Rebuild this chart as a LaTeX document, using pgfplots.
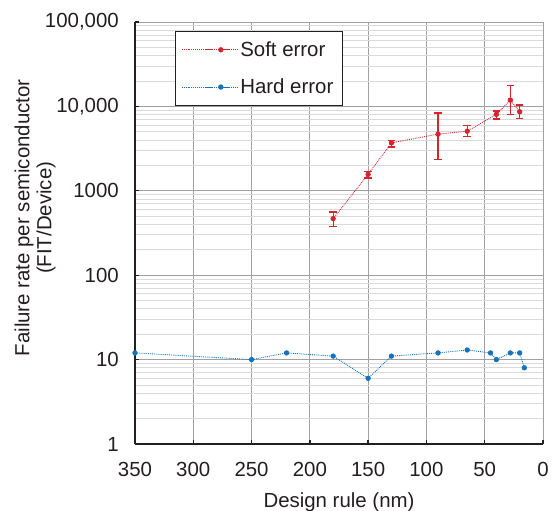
\documentclass[border=0pt]{standalone}
\usepackage{fontspec}
\setmainfont{Liberation Sans}
\usepackage{pgfplots}
\pgfplotsset{compat=1.18}
\usepackage{pgfplotstable}

\definecolor{softred}{RGB}{212,38,48}
\definecolor{hardblue}{RGB}{20,114,190}
\definecolor{majgrid}{RGB}{160,160,160}
\definecolor{mingrid}{RGB}{218,218,218}
\definecolor{txt}{RGB}{35,31,32}

% x = design rule (nm), y = FIT/device, ep/em = error bar up/down
\pgfplotstableread{
x    y      ep    em
180  468    93    92
150  1567   135   148
130  3700   250   400
90   4690   3660  2350
65   5080   850   680
40   8050   760   950
28   11860  5790  3810
20   8650   1720  1490
}\softdata

\pgfplotstableread{
x    y
350  12
250  10
220  12
180  11
150  6
130  11
90   12
65   13
45   12
40   10
28   12
20   12
16   8
}\harddata

\begin{document}
\begin{tikzpicture}[font=\fontsize{20.5}{22}\selectfont, text=txt]
\begin{axis}[
  scale only axis,
  width=408bp, height=422bp,
  x dir=reverse,
  xmin=0, xmax=350,
  ymode=log, ymin=1, ymax=100000,
  xtick={0,50,...,350},
  ytick={1,10,100,1000,10000,100000},
  yticklabels={1,10,100,1000,{10,000},{100,000}},
  minor ytick={2,3,4,5,6,7,8,9,20,30,40,50,60,70,80,90,200,300,400,500,600,700,800,900,2000,3000,4000,5000,6000,7000,8000,9000,20000,30000,40000,50000,60000,70000,80000,90000},
  /pgf/number format/assume math mode=true,
  axis x line*=bottom, axis y line*=left,
  axis line style={-, line width=1.6pt, txt},
  tick align=inside,
  major tick length=4.5bp, minor tick length=0pt,
  tick style={line width=1.4pt, txt},
  grid=both,
  major grid style={line width=0.9pt, majgrid},
  minor grid style={line width=0.9pt, mingrid},
  xticklabel style={anchor=base, yshift=-32bp, inner sep=0pt},
  yticklabel style={anchor=east, xshift=-16bp, inner sep=0pt},
  xlabel={Design rule (nm)},
  xlabel style={at={(rel axis cs:0.5,0)}, anchor=base, yshift=-63bp, inner sep=0pt},
  ylabel={Failure rate per semiconductor\\(FIT/Device)},
  ylabel style={at={(rel axis cs:-0.245,0.536)}, anchor=center, align=center, inner sep=0pt},
  legend style={at={(rel axis cs:0.098,0.978)}, anchor=north west,
    draw=txt, line width=0.8pt, inner xsep=6bp, inner ysep=8bp,
    row sep=17bp, font=\fontsize{20.5}{22}\selectfont,
    nodes={inner xsep=3bp}},
  legend cell align=left,
  legend image code/.code={
    \path (0bp,0bp) -- (55bp,0bp);
    \draw[#1, mark=none] (23bp,0bp) -- (55bp,0bp);
    \draw[#1, only marks] plot coordinates {(39bp,0bp)};},
]
\addplot[softred, densely dotted, line width=0.9pt, mark=*, mark size=2.2bp,
  mark options={solid},
  error bars/.cd, y dir=both, y explicit,
  error bar style={solid, line width=1.2pt, draw=softred},
  error mark options={solid, rotate=90, line width=1.2pt, mark size=3.8bp, draw=softred}]
  table[x=x, y=y, y error plus=ep, y error minus=em] {\softdata};
\addlegendentry{Soft error}
\addplot[hardblue, densely dotted, line width=0.9pt, mark=*, mark size=2.2bp,
  mark options={solid}]
  table[x=x, y=y] {\harddata};
\addlegendentry{Hard error}
\end{axis}
\pgfresetboundingbox
\useasboundingbox (-135bp,-67bp) rectangle (418bp,444bp);
\end{tikzpicture}
\end{document}
